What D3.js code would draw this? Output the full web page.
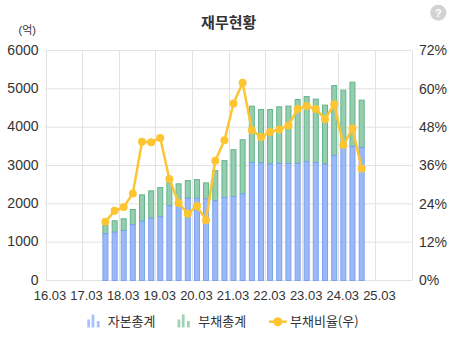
<!DOCTYPE html>
<html><head><meta charset="utf-8">
<script src="https://cdn.jsdelivr.net/npm/d3@7"></script>
<style>
html,body{margin:0;padding:0;background:#fff;}
svg{display:block;font-family:"Liberation Sans","Noto Sans CJK KR",Arial,sans-serif;}
</style></head>
<body><svg id="c" width="457" height="337"></svg>
<script>
// ---- data ----
const periods = ["17.09","17.12","18.03","18.06","18.09","18.12","19.03","19.06","19.09","19.12",
  "20.03","20.06","20.09","20.12","21.03","21.06","21.09","21.12","22.03","22.06","22.09","22.12",
  "23.03","23.06","23.09","23.12","24.03","24.06","24.09"];
const equity = [1233,1274,1319,1467,1560,1638,1675,1961,2040,2159,2159,2143,2091,2177,2203,2273,
  3095,3079,3053,3069,3069,3069,3113,3087,3053,3277,3469,3511,3485];
const liabilities = [216,297,304,398,687,713,762,606,495,460,486,416,788,962,1222,1412,
  1467,1394,1420,1475,1493,1664,1698,1657,1535,1821,1509,1675,1233];
const debtRatio = [18.4,21.8,23.0,27.2,43.4,43.3,44.6,31.8,24.3,20.9,23.3,18.9,37.5,43.9,55.4,61.9,
  47.0,44.9,46.5,47.3,48.5,53.7,54.6,53.7,50.5,55.2,42.4,47.6,35.1];
const xTickLabels = ["16.03","17.03","18.03","19.03","20.03","21.03","22.03","23.03","24.03","25.03"];
const leftTicks = [0,1000,2000,3000,4000,5000,6000];
const rightTicks = [0,12,24,36,48,60,72];
const legendLabels = ["자본총계","부채총계","부채비율(우)"];
const title = "재무현황";
const unitLabel = "(억)";

// ---- setup ----
const svg = d3.select("#c");
const quarterEnd = s => { const [yy,mm] = s.split(".").map(Number); return new Date(2000+yy, mm, 0); };
const x = d3.scaleTime().domain([new Date(2016,2,1), new Date(2026,2,1)]).range([45.5, 411.5]);
const yL = d3.scaleLinear().domain([0,6000]).range([280.5, 50.5]);
const yR = d3.scaleLinear().domain([0,72]).range([280.5, 50.5]);
const tickDates = d3.range(2016, 2027).map(y => new Date(y, 2, 1));
const barW = 6;
const cx = p => x(quarterEnd(p)) + 2;

const data = periods.map((p,i) => ({p, eq: equity[i], li: liabilities[i], r: debtRatio[i]}));

// gridlines
const g = svg.append("g");
g.selectAll(".vg").data(tickDates).join("line")
  .attr("x1", d => Math.round(x(d)) + 0.5).attr("x2", d => Math.round(x(d)) + 0.5)
  .attr("y1", yL(6000)).attr("y2", yL(0))
  .attr("stroke", "#e2e2e2").attr("stroke-width", 1);
g.selectAll(".hg").data(leftTicks).join("line")
  .attr("x1", x.range()[0]).attr("x2", x.range()[1])
  .attr("y1", d => yL(d)).attr("y2", d => yL(d))
  .attr("stroke", "#e2e2e2").attr("stroke-width", 1);

// bars
svg.append("g").selectAll("rect").data(data).join("rect")
  .attr("x", d => cx(d.p) - barW/2 + 0.5)
  .attr("width", barW - 1)
  .attr("y", d => yL(d.eq + d.li) + 0.5)
  .attr("height", d => yL(d.eq) - yL(d.eq + d.li))
  .attr("fill", "#8ccaa8").attr("fill-opacity", 0.92)
  .attr("stroke", "#62b48a").attr("stroke-width", 1);
svg.append("g").selectAll("rect").data(data).join("rect")
  .attr("x", d => cx(d.p) - barW/2 + 0.5)
  .attr("width", barW - 1)
  .attr("y", d => yL(d.eq) + 0.5)
  .attr("height", d => yL(0) - yL(d.eq) - 0.5)
  .attr("fill", "#93b3f6").attr("fill-opacity", 0.92)
  .attr("stroke", "#7ca2f1").attr("stroke-width", 1);

// line
const lineColor = "#fdc531";
svg.append("path").datum(data)
  .attr("d", d3.line().x(d => cx(d.p)).y(d => yR(d.r)))
  .attr("fill", "none").attr("stroke", lineColor).attr("stroke-width", 2.5)
  .attr("stroke-linejoin", "round");
svg.append("g").selectAll("circle").data(data).join("circle")
  .attr("cx", d => cx(d.p)).attr("cy", d => yR(d.r)).attr("r", 4)
  .attr("fill", lineColor);

// axes labels
const txt = "#333";
svg.append("g").selectAll("text").data(xTickLabels).join("text")
  .attr("x", (d,i) => x(tickDates[i]) + 4.5).attr("y", 299.5)
  .attr("text-anchor", "middle").attr("font-size", 13).attr("fill", txt)
  .text(d => d);
svg.append("g").selectAll("text").data(leftTicks).join("text")
  .attr("x", 38.5).attr("y", d => yL(d)).attr("dy", "0.3em")
  .attr("text-anchor", "end").attr("font-size", 14).attr("fill", txt)
  .text(d => d);
svg.append("g").selectAll("text").data(rightTicks).join("text")
  .attr("x", 419).attr("y", d => yR(d)).attr("dy", "0.34em")
  .attr("text-anchor", "start").attr("font-size", 14).attr("fill", txt)
  .text(d => d + "%");
svg.append("text").attr("x", 36).attr("y", 34).attr("text-anchor", "end")
  .attr("font-size", 11).attr("fill", txt).text(unitLabel);

// title
svg.append("text").attr("x", 228.7).attr("y", 28).attr("text-anchor", "middle")
  .attr("font-size", 15).attr("font-weight", "bold").attr("fill", "#333")
  .attr("font-family", "'Noto Sans CJK KR', sans-serif").text(title);

// help icon
svg.append("circle").attr("cx", 438.3).attr("cy", 12.7).attr("r", 8).attr("fill", "#d2d2d2");
svg.append("text").attr("x", 438.3).attr("y", 12.7).attr("dy", "0.36em").attr("text-anchor", "middle")
  .attr("font-size", 11).attr("font-weight", "bold").attr("fill", "#fff").text("?");

// legend
const leg = svg.append("g");
const barIcon = (x0, color) => {
  const hs = [8, 13, 6.5];
  const xs = [0, 4.3, 9.5];
  hs.forEach((h,i) => leg.append("rect").attr("x", x0 + xs[i]).attr("y", 327.5 - h)
    .attr("width", 2.8).attr("height", h).attr("fill", color));
};
barIcon(87.3, "#a8c2f7");
leg.append("text").attr("x", 107.7).attr("y", 321).attr("dy", "0.36em").attr("font-size", 13)
  .attr("fill", txt).attr("font-family", "'Noto Sans CJK KR', sans-serif").text(legendLabels[0]);
barIcon(177.5, "#9fd3b6");
leg.append("text").attr("x", 198.3).attr("y", 321).attr("dy", "0.36em").attr("font-size", 13)
  .attr("fill", txt).attr("font-family", "'Noto Sans CJK KR', sans-serif").text(legendLabels[1]);
leg.append("line").attr("x1", 269).attr("x2", 286.7).attr("y1", 321.7).attr("y2", 321.7)
  .attr("stroke", lineColor).attr("stroke-width", 2.5);
leg.append("circle").attr("cx", 277.8).attr("cy", 321.7).attr("r", 4.5).attr("fill", lineColor);
leg.append("text").attr("x", 290).attr("y", 321).attr("dy", "0.36em").attr("font-size", 13)
  .attr("fill", txt).attr("font-family", "'Noto Sans CJK KR', sans-serif").text(legendLabels[2]);
</script></body></html>
